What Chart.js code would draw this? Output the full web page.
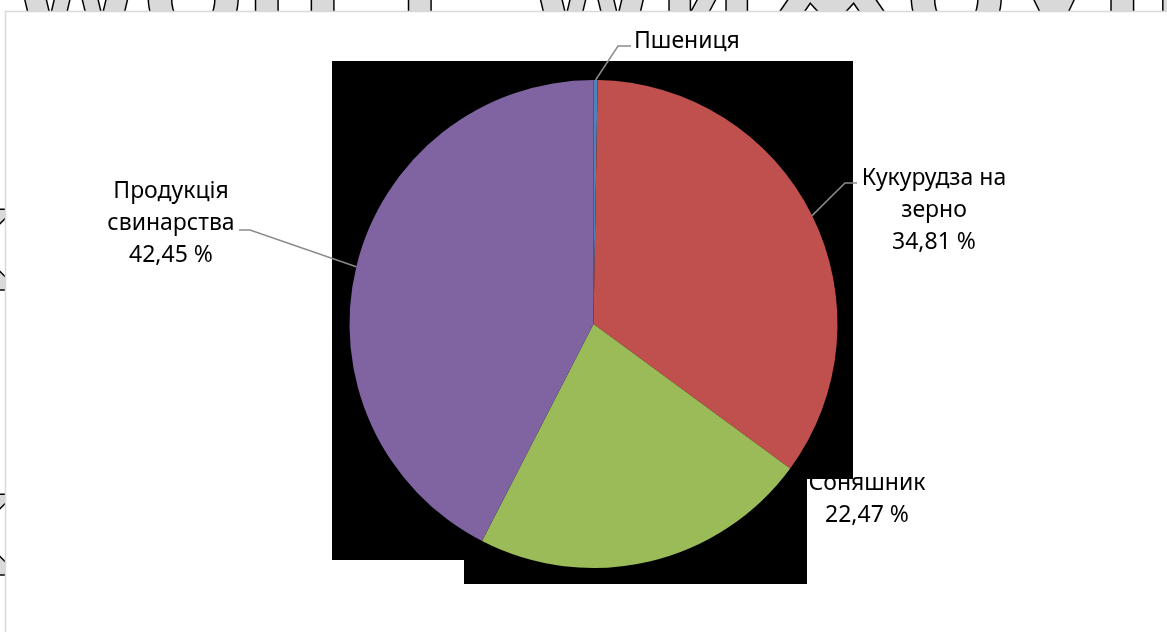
<!DOCTYPE html>
<html>
<head>
<meta charset="utf-8">
<script src="https://cdn.jsdelivr.net/npm/chart.js@4/dist/chart.umd.min.js"></script>
<style>
  html, body { margin: 0; padding: 0; background: #fff; }
  canvas { display: block; }
</style>
</head>
<body>
<canvas id="pieChart" width="1167" height="632"></canvas>
<script>
// структура виробництва, %
var categories = ['Пшениця', 'Кукурудза на зерно', 'Соняшник', 'Продукція свинарства'];
var shares = [0.27, 34.81, 22.47, 42.45];
var sliceColors = ['#4F81BD', '#C0504D', '#9BBB59', '#8064A2'];
// how each category name is broken into lines
var nameLines = [['Пшениця'], ['Кукурудза на', 'зерно'], ['Соняшник'], ['Продукція', 'свинарства']];
var showPercent = [false, true, true, true];

var FONT = '23px "Noto Sans", "Open Sans", sans-serif';
var LINE_H = 32;

function pct(v) {
    return v.toFixed(2).replace('.', ',') + ' %';
}

// label boxes: x is centre (or left edge when align is 'left'), y is first line
var labelPos = [
    { x: 634, y: 41, align: 'left', elbow: [[618, 46], [631, 46]] },
    { x: 934, y: 178, align: 'center', elbow: [[845, 183], [857, 183]] },
    { x: 867, y: 483, align: 'center', elbow: null },
    { x: 171, y: 191, align: 'center', elbow: [[250, 230], [239, 230]] }
];

// black blocks behind the plot
var backdrop = [[332, 61], [853, 61], [853, 479], [807, 479], [807, 584], [464, 584], [464, 560], [332, 560]];

var framePlugin = {
    id: 'frame',
    beforeDraw: function(chart) {
        var ctx = chart.ctx;
        ctx.save();
        ctx.fillStyle = '#fff';
        ctx.fillRect(0, 0, chart.width, chart.height);

        // big outlined lettering peeking over the frame edge
        ctx.save();
        ctx.beginPath();
        ctx.rect(0, 0, chart.width, 11);
        ctx.rect(0, 11, 5, chart.height);
        ctx.clip();
        ctx.font = 'bold 120px "DejaVu Sans", sans-serif';
        ctx.fillStyle = '#d9d9d9';
        ctx.strokeStyle = '#000';
        ctx.lineWidth = 1.5;
        ctx.textBaseline = 'alphabetic';
        var txt = 'WОЦ I  WИЖОЎШ ШI';
        ctx.fillText(txt, 10, 40);
        ctx.strokeText(txt, 10, 40);
        ctx.font = 'bold 110px "DejaVu Sans", sans-serif';
        ctx.fillText('K', -70, 290);
        ctx.strokeText('K', -70, 290);
        ctx.fillText('K', -70, 575);
        ctx.strokeText('K', -70, 575);
        ctx.restore();

        ctx.strokeStyle = '#d9d9d9';
        ctx.lineWidth = 1.5;
        ctx.beginPath();
        ctx.moveTo(5.5, chart.height);
        ctx.lineTo(5.5, 11.5);
        ctx.lineTo(chart.width, 11.5);
        ctx.stroke();
        ctx.restore();
    },
    beforeDatasetsDraw: function(chart) {
        var ctx = chart.ctx;
        var arcs = chart.getDatasetMeta(0).data;
        ctx.save();

        // category labels
        ctx.font = FONT;
        ctx.fillStyle = '#000';
        ctx.textBaseline = 'middle';
        categories.forEach(function(c, i) {
            var lines = nameLines[i].slice();
            if (showPercent[i]) lines.push(pct(shares[i]));
            var lp = labelPos[i];
            ctx.textAlign = lp.align;
            lines.forEach(function(t, k) {
                ctx.fillText(t, lp.x, lp.y + k * LINE_H);
            });
        });

        // dark backdrop
        ctx.fillStyle = '#000';
        ctx.beginPath();
        backdrop.forEach(function(pt, k) {
            if (k === 0) ctx.moveTo(pt[0], pt[1]);
            else ctx.lineTo(pt[0], pt[1]);
        });
        ctx.closePath();
        ctx.fill();

        // leader lines from slice edge
        ctx.strokeStyle = '#8c8c8c';
        ctx.lineWidth = 1.5;
        arcs.forEach(function(arc, i) {
            var e = labelPos[i].elbow;
            if (!e) return;
            var p = arc.getProps(['x', 'y', 'startAngle', 'endAngle', 'outerRadius'], true);
            var mid = (p.startAngle + p.endAngle) / 2;
            var sx = p.x + Math.cos(mid) * p.outerRadius;
            var sy = p.y + Math.sin(mid) * p.outerRadius;
            ctx.beginPath();
            ctx.moveTo(sx, sy);
            ctx.lineTo(e[0][0], e[0][1]);
            ctx.lineTo(e[1][0], e[1][1]);
            ctx.stroke();
        });
        ctx.restore();
    }
};

new Chart(document.getElementById('pieChart'), {
    type: 'pie',
    data: {
        labels: categories,
        datasets: [{
            data: shares,
            backgroundColor: sliceColors,
            borderWidth: 0
        }]
    },
    options: {
        responsive: false,
        animation: false,
        layout: { padding: { top: 80, bottom: 64, left: 349, right: 329 } },
        plugins: {
            legend: { display: false },
            tooltip: { enabled: false }
        }
    },
    plugins: [framePlugin]
});
</script>
</body>
</html>
